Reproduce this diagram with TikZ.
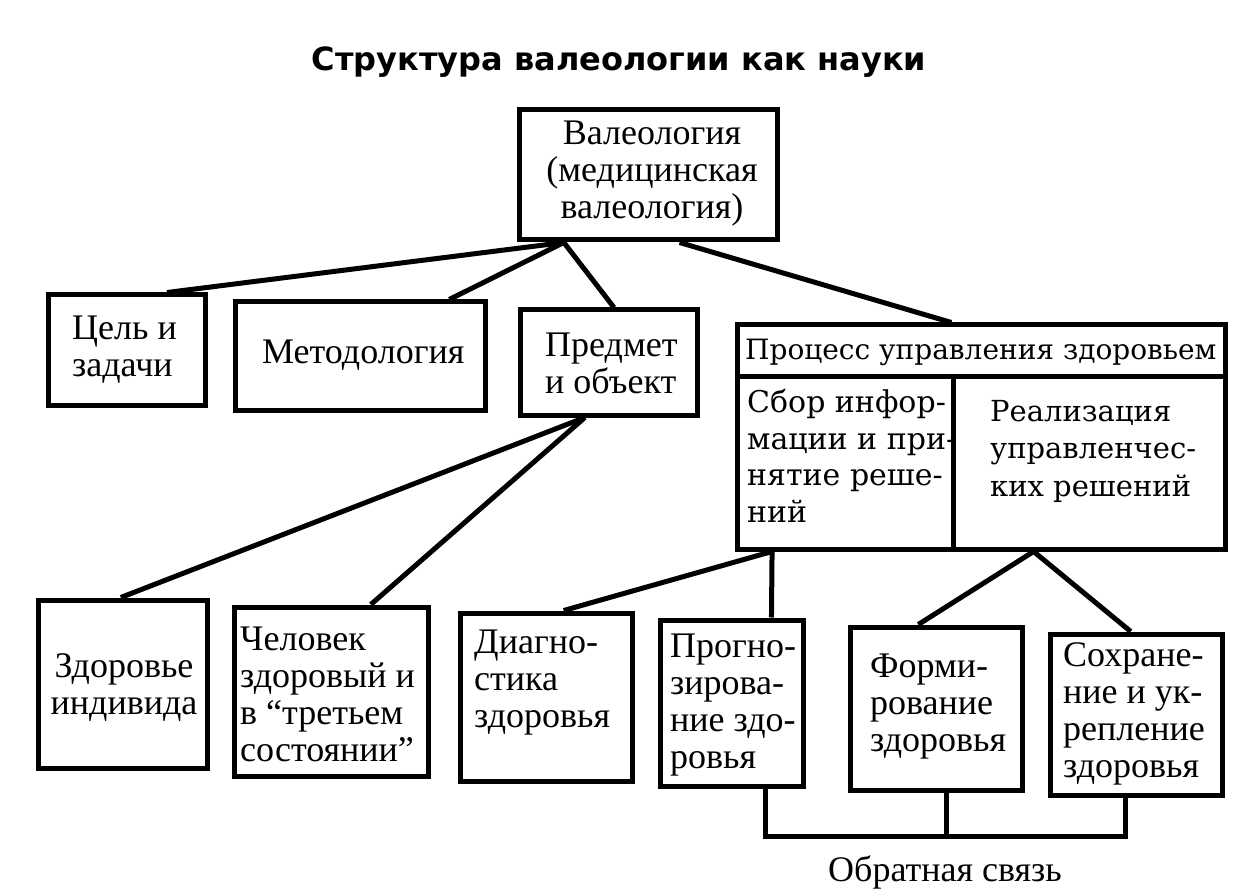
\documentclass[tikz,border=0pt]{standalone}
\usepackage{fontspec}
\setmainfont{Liberation Serif}
\newfontfamily\procfont{DejaVu Serif}
\newfontfamily\titlefont{DejaVu Sans}
\usetikzlibrary{calc}
\tikzset{
  box/.style={draw, line width=5pt, rectangle, inner sep=0pt},
  txt/.style={font=\fontsize{36}{37}\selectfont, align=left, inner sep=0pt, anchor=west},
  ptxt/.style={font=\procfont\fontsize{28}{36.5}\selectfont, align=left, inner sep=0pt, anchor=west},
  link/.style={line width=5pt},
}
\begin{document}
\begin{tikzpicture}[x=1pt,y=-1pt]
\useasboundingbox[fill=white] (0,0) rectangle (1250,890);

% title
\node[font=\titlefont\bfseries\fontsize{32}{40}\selectfont, inner sep=0pt] (title) at (619,62) {Структура валеологии как науки};

% boxes
\node[box, minimum width=258pt, minimum height=130pt] (top) at (648,175) {};
\node[box, minimum width=157pt, minimum height=110pt] (cel) at (126.5,350) {};
\node[box, minimum width=250pt, minimum height=108pt] (met) at (360,356) {};
\node[box, minimum width=177pt, minimum height=105pt] (pred) at (608.5,362.5) {};
\node[box, minimum width=488pt, minimum height=52pt] (proch) at (981,351) {};
\node[box, minimum width=216pt, minimum height=172pt] (sbor) at (845,463) {};
\node[box, minimum width=272pt, minimum height=172pt] (real) at (1089,463) {};
\node[box, minimum width=169pt, minimum height=168pt] (zdor) at (122.5,684) {};
\node[box, minimum width=194pt, minimum height=169pt] (chel) at (331,691.5) {};
\node[box, minimum width=172pt, minimum height=168pt] (diag) at (546,697) {};
\node[box, minimum width=143pt, minimum height=166pt] (prog) at (731.5,703) {};
\node[box, minimum width=172pt, minimum height=163pt] (form) at (936,708.5) {};
\node[box, minimum width=172pt, minimum height=161pt] (sohr) at (1136,714.5) {};

% texts
\node[txt, anchor=center, align=center] (topt) at (652,174) {Валеология\\(медицинская\\валеология)};
\node[txt] (celt) at (72,350) {Цель и\\задачи};
\node[txt] (mett) at (262,355) {Методология};
\node[txt] (predt) at (545,363) {Предмет\\и объект};
\node[ptxt] (procht) at (745,352) {Процесс управления здоровьем};
\node[ptxt, font=\procfont\fontsize{30}{36.7}\selectfont] (sbort) at (747,456) {Сбор инфор-\\мации и при-\\нятие реше-\\ний};
\node[ptxt, font=\procfont\fontsize{29}{37.5}\selectfont] (realt) at (990,451) {Реализация\\управленчес-\\ких решений};
\node[txt, align=center, anchor=center] (zdort) at (124,688) {Здоровье\\индивида};
\node[txt] (chelt) at (240,694) {Человек\\здоровый и\\в “третьем\\состоянии”};
\node[txt] (diagt) at (474,683) {Диагно-\\стика\\здоровья};
\node[txt] (progt) at (670,705) {Прогно-\\зирова-\\ние здо-\\ровья};
\node[txt] (formt) at (870,707) {Форми-\\рование\\здоровья};
\node[txt] (sohrt) at (1063,714) {Сохране-\\ние и ук-\\репление\\здоровья};
\node[txt, anchor=center] (fbt) at (945,872) {Обратная связь};

% connectors level 1
\coordinate (tA) at ($(top.south west)!0.18!(top.south east)$);
\coordinate (tB) at ($(top.south west)!0.62!(top.south east)$);
\draw[link] (tA) -- ($(cel.north west)!0.75!(cel.north east)$);
\draw[link] (tA) -- ($(met.north west)!0.85!(met.north east)$);
\draw[link] (tA) -- ($(pred.north west)!0.53!(pred.north east)$);
\draw[link] (tB) -- ($(proch.north west)!0.44!(proch.north east)$);

% connectors level 2
\coordinate (pB) at ($(pred.south west)!0.37!(pred.south east)$);
\draw[link] (pB) -- ($(zdor.north west)!0.49!(zdor.north east)$);
\draw[link] (pB) -- ($(chel.north west)!0.70!(chel.north east)$);
\coordinate (sB) at ($(sbor.south west)!0.17!(sbor.south east)$);
\draw[link] (sB) -- ($(diag.north west)!0.60!(diag.north east)$);
\draw[link] (sB) -- ($(prog.north west)!0.77!(prog.north east)$);
\coordinate (rB) at ($(real.south west)!0.30!(real.south east)$);
\draw[link] (rB) -- ($(form.north west)!0.40!(form.north east)$);
\draw[link] (rB) -- ($(sohr.north west)!0.47!(sohr.north east)$);

% feedback
\coordinate (fb1) at ($(prog.south west)!0.73!(prog.south east)$);
\coordinate (fb2) at ($(form.south west)!0.56!(form.south east)$);
\coordinate (fb3) at ($(sohr.south west)!0.44!(sohr.south east)$);
\coordinate (fbl) at (0,836);
\draw[link] (fb1) -- (fb1 |- fbl) -- (fb3 |- fbl) -- (fb3);
\draw[link] (fb2) -- (fb2 |- fbl);
\end{tikzpicture}
\end{document}
